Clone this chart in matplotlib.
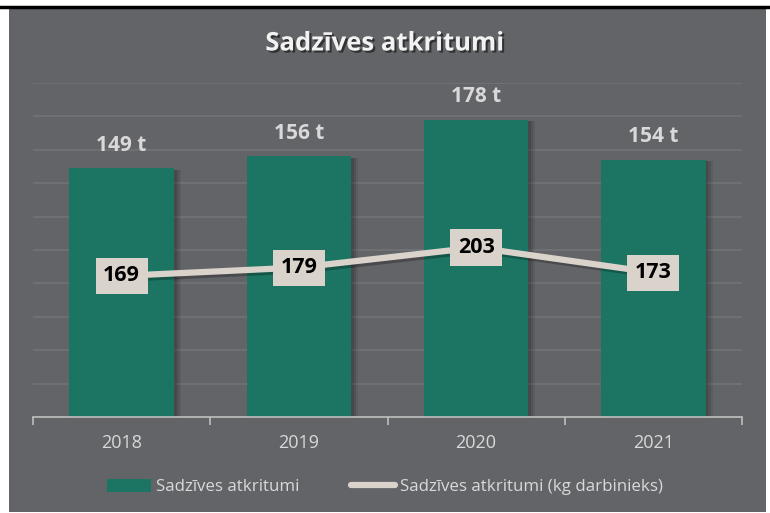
import matplotlib
matplotlib.use("Agg")
import matplotlib.pyplot as plt
import matplotlib.patheffects as pe
from matplotlib.patches import Rectangle, Patch
from matplotlib.lines import Line2D

years = ["2018", "2019", "2020", "2021"]
waste_t = [149, 156, 178, 154]
waste_kg = [169, 179, 203, 173]
title = "Sadzīves atkritumi"
bar_label = "Sadzīves atkritumi"
line_label = "Sadzīves atkritumi (kg darbinieks)"

BG = "#636468"
GRID = "#727377"
BAR = "#1c7562"
LINE = "#d9d3cb"
TXT = "#d9d9d9"
FONT = "Open Sans"

W, H = 770, 513
fig = plt.figure(figsize=(W / 100, H / 100), dpi=100, facecolor="white")

# gray panel and top black line
fig.patches.append(Rectangle((9 / W, 1 - 512 / H), (766 - 9) / W, (512 - 9) / H,
                             transform=fig.transFigure, facecolor=BG, edgecolor="none", zorder=-10))
fig.add_artist(Line2D([0, 1], [1 - 7 / H, 1 - 7 / H], transform=fig.transFigure,
                      color="black", lw=2.5))

ax = fig.add_axes([33 / W, 1 - 417 / H, (742 - 33) / W, (417 - 83) / H])
ax.set_facecolor("none")
x = list(range(len(years)))
bars = ax.bar(x, waste_t, width=0.59, color=BAR, zorder=3)
for b in bars:
    b.set_path_effects([pe.SimplePatchShadow(offset=(5, -1), shadow_rgbFace="black", alpha=0.08),
                        pe.SimplePatchShadow(offset=(3.5, -1), shadow_rgbFace="black", alpha=0.1),
                        pe.SimplePatchShadow(offset=(2, -1), shadow_rgbFace="black", alpha=0.12),
                        pe.Normal()])
ax.set_xlim(-0.5, len(years) - 0.5)
ax.set_ylim(0, 200)
ax.set_yticks(range(0, 201, 20))
ax.yaxis.grid(True, color=GRID, lw=1.2, zorder=0)
for s in ["top", "left", "right"]:
    ax.spines[s].set_visible(False)
ax.spines["bottom"].set_color("#bfbfbf")
ax.spines["bottom"].set_linewidth(1.2)
ax.spines["bottom"].set_zorder(5)
ax.set_xticks([i - 0.5 for i in range(len(years) + 1)], minor=False)
ax.set_xticklabels([])
ax.tick_params(axis="x", length=6, color="#bfbfbf", width=1.2, direction="out")
ax.set_xticks(x, minor=True)
ax.set_xticklabels(years, minor=True)
ax.tick_params(axis="x", which="minor", length=0, pad=12, labelsize=13, labelcolor=TXT)
for lab in ax.get_xticklabels(minor=True):
    lab.set_fontfamily(FONT)

for xi, v in zip(x, waste_t):
    ax.annotate(f"{v} t", (xi, v), xytext=(0, 9), textcoords="offset points",
                ha="center", va="bottom", fontsize=15, fontweight="bold",
                color=TXT, fontfamily=FONT)

ax2 = ax.twinx()
ax2.set_ylim(0, 400)
ax2.axis("off")
ax.tick_params(axis="y", which="both", left=False, right=False, labelleft=False)
ax2.plot(x, waste_kg, color=LINE, lw=4.5, solid_capstyle="round", zorder=4,
         path_effects=[pe.SimpleLineShadow(offset=(2, -2), shadow_color="black", alpha=0.25),
                       pe.Normal()])
for xi, v in zip(x, waste_kg):
    ax2.text(xi, v, str(v), ha="center", va="center", fontsize=15.5, fontweight="bold",
             color="black", fontfamily=FONT, zorder=6,
             bbox=dict(boxstyle="square,pad=0.35", facecolor=LINE, edgecolor="none"))

fig.text(0.5, 1 - 43 / H, title, ha="center", va="center", fontsize=18.5, fontweight="bold",
         color="#f2f2f2", fontfamily=FONT,
         path_effects=[pe.withSimplePatchShadow(offset=(1.5, -1.5), shadow_rgbFace="black", alpha=0.5)])

handles = [Patch(facecolor=BAR, edgecolor="none"),
           Line2D([0], [0], color=LINE, lw=4.5, solid_capstyle="round")]
leg = fig.legend(handles, [bar_label, line_label], loc="center", ncol=2,
                 bbox_to_anchor=(0.5, 1 - 487 / H), frameon=False,
                 prop={"family": FONT, "size": 12.2}, labelcolor=TXT,
                 handlelength=2.6, handleheight=0.8, handletextpad=0.3, columnspacing=3.0)

fig.savefig("out.png", dpi=100, facecolor="white")
